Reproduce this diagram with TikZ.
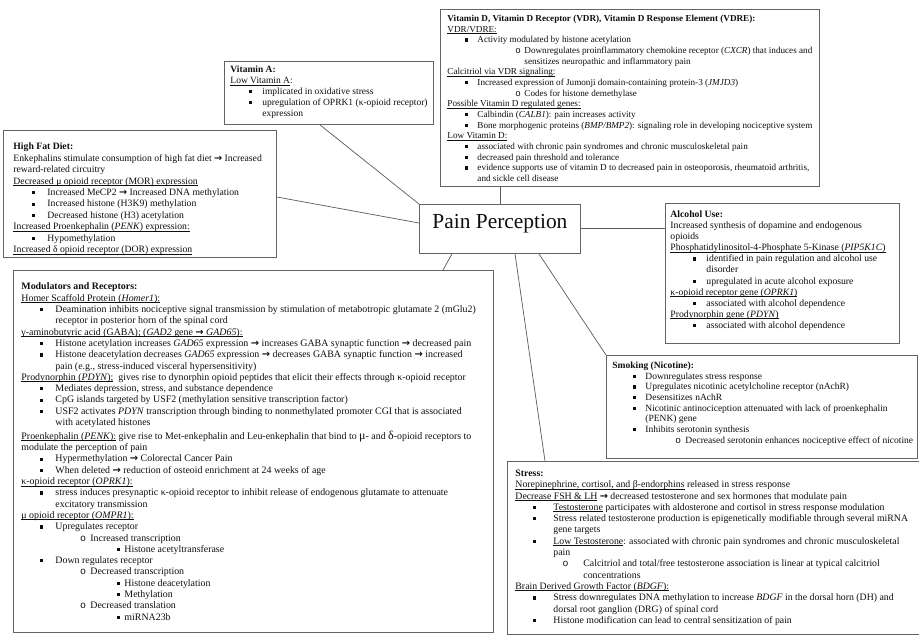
\documentclass[tikz,border=0pt]{standalone}
\usepackage{fontspec}
\setmainfont{Liberation Serif}
\newfontfamily\monof{Liberation Mono}
\newfontfamily\symf{DejaVu Sans}
\definecolor{bordc}{RGB}{100,100,100}
\definecolor{lineg}{RGB}{90,90,90}
\definecolor{txt}{RGB}{15,15,15}
\newlength\pl \newlength\ia \newlength\ib \newlength\ic
\newlength\bgap \newlength\cgap \newlength\dgap
\newcommand\ind[7]{\setlength\pl{#1}\setlength\ia{#2}\setlength\bgap{#3}\setlength\ib{#4}\setlength\cgap{#5}\setlength\ic{#6}\setlength\dgap{#7}}
\newcommand\BX[6]{\parbox[c][#4][t]{#3}{\fontsize{#1}{#2}\selectfont\color{txt}\setlength\parindent{0pt}\setlength\parskip{0pt}\vspace*{#5}#6}}
\newcommand\ul[1]{\setbox0=\hbox{#1}\rlap{\rule[-1.5pt]{\wd0}{0.5pt}}\box0\relax}
\newcommand\arr{\mbox{\symf\bfseries →}}
\newcommand\sqb{\rule[1.2pt]{3.2pt}{3.2pt}}
\newcommand\Tt[1]{\par\noindent\hspace*{\pl}\rule{0pt}{7pt}\mbox{\textbf{#1}}\par}
\newcommand\Lz[1]{\par\noindent\hspace*{\pl}\rule{0pt}{7pt}\mbox{#1}\par}
\newcommand\Ba[1]{\par\noindent\hspace*{\dimexpr\pl+\ia\relax}\llap{\sqb\hspace*{\bgap}}\rule{0pt}{7pt}\mbox{#1}\par}
\newcommand\Ka[1]{\par\noindent\hspace*{\dimexpr\pl+\ia\relax}\rule{0pt}{7pt}\mbox{#1}\par}
\newcommand\Cb[1]{\par\noindent\hspace*{\dimexpr\pl+\ib\relax}\llap{{\monof o}\hspace*{\cgap}}\rule{0pt}{7pt}\mbox{#1}\par}
\newcommand\Kb[1]{\par\noindent\hspace*{\dimexpr\pl+\ib\relax}\rule{0pt}{7pt}\mbox{#1}\par}
\newcommand\Dc[1]{\par\noindent\hspace*{\dimexpr\pl+\ic\relax}\llap{\sqb\hspace*{\dgap}}\rule{0pt}{7pt}\mbox{#1}\par}
\tikzset{
  box/.style={draw=bordc, line width=0.9pt, fill=white, anchor=north west, inner sep=0pt},
  conn/.style={draw=lineg, line width=0.7pt}
}
\begin{document}
\begin{tikzpicture}[x=1pt,y=1pt]
\useasboundingbox[fill=white] (0,0) rectangle (919,-635);

% Vitamin D
\node[box] (vitd) at (440,-9) {\BX{9.15}{10.67}{379pt}{177pt}{5pt}{\ind{7pt}{30pt}{9pt}{77pt}{3.5pt}{104pt}{4pt}%
\Tt{Vitamin D, Vitamin D Receptor (VDR), Vitamin D Response Element (VDRE):}
\Lz{\ul{VDR/VDRE:}}
\Ba{Activity modulated by histone acetylation}
\Cb{Downregulates proinflammatory chemokine receptor (\textit{CXCR}) that induces and}
\Kb{sensitizes neuropathic and inflammatory pain}
\Lz{\ul{Calcitriol via VDR signaling:}}
\Ba{Increased expression of Jumonji domain-containing protein-3 (\textit{JMJD3})}
\Cb{Codes for histone demethylase}
\Lz{\ul{Possible Vitamin D regulated genes:}}
\Ba{Calbindin (\textit{CALB1}): pain increases activity}
\Ba{Bone morphogenic proteins (\textit{BMP/BMP2}): signaling role in developing nociceptive system}
\Lz{\ul{Low Vitamin D:}}
\Ba{associated with chronic pain syndromes and chronic musculoskeletal pain}
\Ba{decreased pain threshold and tolerance}
\Ba{evidence supports use of vitamin D to decreased pain in osteoporosis, rheumatoid arthritis,}
\Ka{and sickle cell disease}}};

% Vitamin A
\node[box] (vita) at (224,-61) {\BX{9.5}{10.8}{209pt}{63pt}{4.5pt}{\ind{6pt}{32pt}{10pt}{72pt}{4pt}{104pt}{4pt}%
\Tt{Vitamin A:}
\Lz{\ul{Low Vitamin A}:}
\Ba{implicated in oxidative stress}
\Ba{upregulation of OPRK1 (κ-opioid receptor)}
\Ka{expression}}};

% High fat diet
\node[box] (hfd) at (3,-130) {\BX{9.7}{11.4}{273pt}{127pt}{12.5pt}{\ind{10pt}{34pt}{12pt}{72pt}{4pt}{104pt}{4pt}%
\Tt{High Fat Diet:}
\Lz{Enkephalins stimulate consumption of high fat diet \arr{} Increased}
\Lz{reward-related circuitry}
\Lz{\ul{Decreased μ opioid receptor (MOR) expression}}
\Ba{Increased MeCP2 \arr{} Increased DNA methylation}
\Ba{Increased histone (H3K9) methylation}
\Ba{Decreased histone (H3) acetylation}
\Lz{\ul{Increased Proenkephalin (\textit{PENK}) expression:}}
\Ba{Hypomethylation}
\Lz{\ul{Increased δ opioid receptor (DOR) expression}}}};

% Modulators and receptors
\node[box] (mod) at (13,-270) {\BX{9.9}{11.3}{480pt}{362pt}{12.5pt}{\ind{8pt}{34pt}{12pt}{69pt}{4.5pt}{103pt}{4pt}%
\Tt{Modulators and Receptors:}
\Lz{\ul{Homer Scaffold Protein (\textit{Homer1}):}}
\Ba{Deamination inhibits nociceptive signal transmission by stimulation of metabotropic glutamate 2 (mGlu2)}
\Ka{receptor in posterior horn of the spinal cord}
\Lz{\ul{γ-aminobutyric acid (GABA); (\textit{GAD2} gene \arr{} \textit{GAD65}):}}
\Ba{Histone acetylation increases \textit{GAD65} expression \arr{} increases GABA synaptic function \arr{} decreased pain}
\Ba{Histone deacetylation decreases \textit{GAD65} expression \arr{} decreases GABA synaptic function \arr{} increased}
\Ka{pain (e.g., stress-induced visceral hypersensitivity)}
\Lz{\ul{Prodynorphin (\textit{PDYN});}\ \ gives rise to dynorphin opioid peptides that elicit their effects through κ-opioid receptor}
\Ba{Mediates depression, stress, and substance dependence}
\Ba{CpG islands targeted by USF2 (methylation sensitive transcription factor)}
\Ba{USF2 activates \textit{PDYN} transcription through binding to nonmethylated promoter CGI that is associated}
\Ka{with acetylated histones}
\vspace{2.5pt}
\Lz{\ul{Proenkephalin (\textit{PENK}):} give rise to Met-enkephalin and Leu-enkephalin that bind to {\large μ}- and {\large δ}-opioid receptors to}
\Lz{modulate the perception of pain}
\Ba{Hypermethylation \arr{} Colorectal Cancer Pain}
\Ba{When deleted \arr{} reduction of osteoid enrichment at 24 weeks of age}
\Lz{\ul{κ-opioid receptor (\textit{OPRK1}):}}
\Ba{stress induces presynaptic κ-opioid receptor to inhibit release of endogenous glutamate to attenuate}
\Ka{excitatory transmission}
\Lz{\ul{μ opioid receptor (\textit{OMPR1}):}}
\Ba{Upregulates receptor}
\Cb{Increased transcription}
\Dc{Histone acetyltransferase}
\Ba{Down regulates receptor}
\Cb{Decreased transcription}
\Dc{Histone deacetylation}
\Dc{Methylation}
\Cb{Decreased translation}
\Dc{miRNA23b}}};

% Pain perception
\node[box, minimum width=161pt, minimum height=49pt, text height=14pt, text depth=14pt,
  font=\fontsize{21.4}{24}\selectfont, text=txt] (pain) at (419,-204) {Pain Perception};

% Alcohol
\node[box] (alc) at (665,-203) {\BX{9.7}{11.1}{234pt}{140pt}{7pt}{\ind{5pt}{36pt}{10pt}{72pt}{4pt}{104pt}{4pt}%
\Tt{Alcohol Use:}
\Lz{Increased synthesis of dopamine and endogenous}
\Lz{opioids}
\Lz{\ul{Phosphatidylinositol-4-Phosphate 5-Kinase (\textit{PIP5K1C})}}
\Ba{identified in pain regulation and alcohol use}
\Ka{disorder}
\Ba{upregulated in acute alcohol exposure}
\Lz{\ul{κ-opioid receptor gene (\textit{OPRK1})}}
\Ba{associated with alcohol dependence}
\Lz{\ul{Prodynorphin gene (\textit{PDYN})}}
\Ba{associated with alcohol dependence}}};

% Smoking
\node[box] (smoke) at (606,-355) {\BX{9.5}{10.7}{311pt}{103pt}{6pt}{\ind{6pt}{33pt}{9pt}{73pt}{4.5pt}{104pt}{4pt}%
\Tt{Smoking (Nicotine):}
\Ba{Downregulates stress response}
\Ba{Upregulates nicotinic acetylcholine receptor (nAchR)}
\Ba{Desensitizes nAchR}
\Ba{Nicotinic antinociception attenuated with lack of proenkephalin}
\Ka{(PENK) gene}
\Ba{Inhibits serotonin synthesis}
\Cb{Decreased serotonin enhances nociceptive effect of nicotine}}};

% Stress
\node[box] (stress) at (507,-461) {\BX{9.8}{11.3}{420pt}{173pt}{8pt}{\ind{8pt}{38pt}{17pt}{68pt}{15pt}{104pt}{4pt}%
\Tt{Stress:}
\Lz{\ul{Norepinephrine, cortisol, and β-endorphins} released in stress response}
\Lz{\ul{Decrease FSH \& LH} \arr{} decreased testosterone and sex hormones that modulate pain}
\Ba{\ul{Testosterone} participates with aldosterone and cortisol in stress response modulation}
\Ba{Stress related testosterone production is epigenetically modifiable through several miRNA}
\Ka{gene targets}
\Ba{\ul{Low Testosterone}: associated with chronic pain syndromes and chronic musculoskeletal}
\Ka{pain}
\Cb{Calcitriol and total/free testosterone association is linear at typical calcitriol}
\Kb{concentrations}
\Lz{\ul{Brain Derived Growth Factor (\textit{BDGF}):}}
\Ba{Stress downregulates DNA methylation to increase \textit{BDGF} in the dorsal horn (DH) and}
\Ka{dorsal root ganglion (DRG) of spinal cord}
\Ba{Histone modification can lead to central sensitization of pain}}};

% connectors
\draw[conn] ([xshift=96pt]vita.south west) -- (pain.north west);
\draw[conn] ([xshift=81pt]pain.north west) -- ([xshift=81pt]pain.north west |- vitd.south);
\draw[conn] ([yshift=-67pt]hfd.north east) -- ([yshift=-19pt]pain.north west);
\draw[conn] ([xshift=33pt]pain.south west) -- ([xshift=430pt]mod.north west);
\draw[conn] ([xshift=96pt]pain.south west) -- ([xshift=38pt]stress.north west);
\draw[conn] ([xshift=120pt]pain.south west) -- (smoke.north west);
\draw[conn] ([yshift=-24pt]pain.north east) -- ([yshift=-24pt]pain.north east -| alc.west);
\end{tikzpicture}
\end{document}
